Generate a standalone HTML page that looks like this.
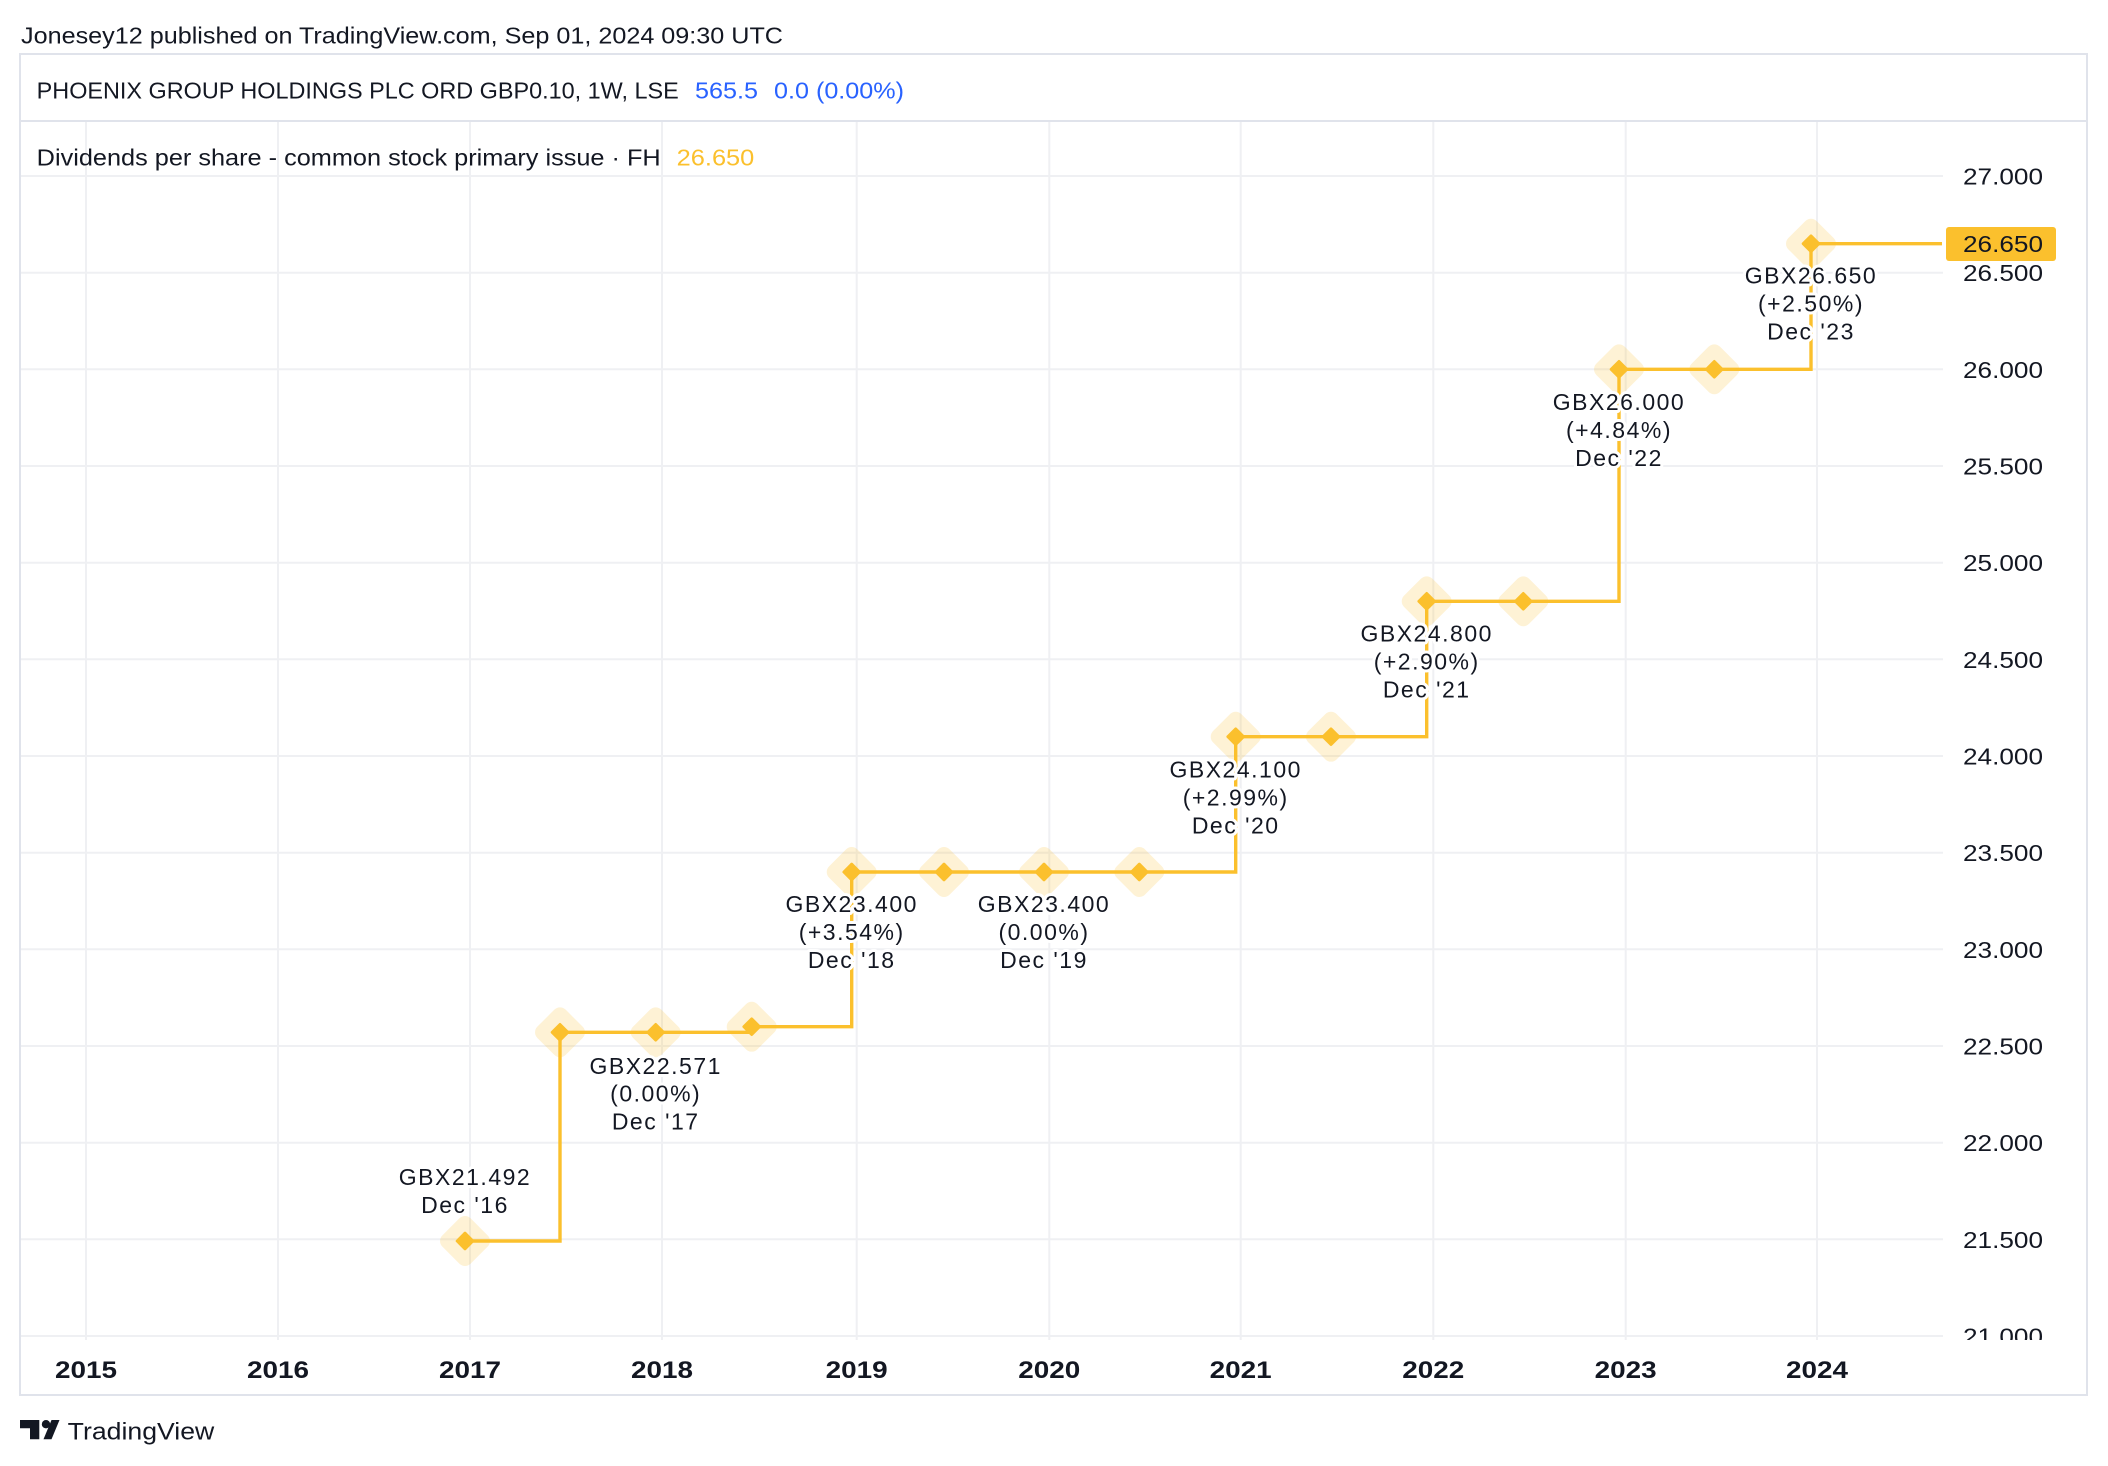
<!DOCTYPE html>
<html><head><meta charset="utf-8"><style>
html,body{margin:0;padding:0;background:#fff;}
svg{display:block;}
text{font-family:"Liberation Sans",Arial,sans-serif;fill:#131722;}
.lbl{font-size:23px;letter-spacing:1.5px;text-anchor:middle;stroke:#fff;stroke-width:6px;stroke-linejoin:round;paint-order:stroke;}
.ax{font-size:23px;}
.yr{font-size:24px;font-weight:bold;text-anchor:middle;}
</style></head><body>
<svg width="2108" height="1466" viewBox="0 0 2108 1466" xmlns="http://www.w3.org/2000/svg">
<defs>
<clipPath id="axclip"><rect x="1944" y="121" width="142" height="1219"/></clipPath>
<rect id="halo" x="-20" y="-20" width="40" height="40" rx="8" ry="8"/>
<rect id="dot" x="-7" y="-7" width="14" height="14" rx="1.5" ry="1.5"/>
</defs>
<rect x="0" y="0" width="2108" height="1466" fill="#fff"/>
<!-- header -->
<text x="21" y="43.3" font-size="23" textLength="762" lengthAdjust="spacingAndGlyphs">Jonesey12 published on TradingView.com, Sep 01, 2024 09:30 UTC</text>
<!-- frame -->
<rect x="20" y="54" width="2067" height="1341" fill="none" stroke="#e0e3eb" stroke-width="2"/>
<line x1="20" y1="121" x2="2087" y2="121" stroke="#e0e3eb" stroke-width="2"/>
<text x="36.7" y="98.3" font-size="23" textLength="642" lengthAdjust="spacingAndGlyphs">PHOENIX GROUP HOLDINGS PLC ORD GBP0.10, 1W, LSE</text>
<text x="695" y="98.3" font-size="23" style="fill:#2962ff" textLength="63" lengthAdjust="spacingAndGlyphs">565.5</text>
<text x="774" y="98.3" font-size="23" style="fill:#2962ff" textLength="130" lengthAdjust="spacingAndGlyphs">0.0 (0.00%)</text>

<!-- grid vertical -->
<g stroke="#eff0f3" stroke-width="2">
<line x1="86" y1="122" x2="86" y2="1340"/>
<line x1="278" y1="122" x2="278" y2="1340"/>
<line x1="470" y1="122" x2="470" y2="1340"/>
<line x1="662" y1="122" x2="662" y2="1340"/>
<line x1="856.7" y1="122" x2="856.7" y2="1340"/>
<line x1="1049.3" y1="122" x2="1049.3" y2="1340"/>
<line x1="1240.7" y1="122" x2="1240.7" y2="1340"/>
<line x1="1433.3" y1="122" x2="1433.3" y2="1340"/>
<line x1="1625.7" y1="122" x2="1625.7" y2="1340"/>
<line x1="1817" y1="122" x2="1817" y2="1340"/>
</g>
<!-- grid horizontal -->
<g stroke="#eff0f3" stroke-width="2">
<line x1="21" y1="176" x2="1943" y2="176"/>
<line x1="21" y1="272.7" x2="1943" y2="272.7"/>
<line x1="21" y1="369.3" x2="1943" y2="369.3"/>
<line x1="21" y1="466" x2="1943" y2="466"/>
<line x1="21" y1="562.7" x2="1943" y2="562.7"/>
<line x1="21" y1="659.3" x2="1943" y2="659.3"/>
<line x1="21" y1="756" x2="1943" y2="756"/>
<line x1="21" y1="852.7" x2="1943" y2="852.7"/>
<line x1="21" y1="949.3" x2="1943" y2="949.3"/>
<line x1="21" y1="1046" x2="1943" y2="1046"/>
<line x1="21" y1="1142.7" x2="1943" y2="1142.7"/>
<line x1="21" y1="1239.3" x2="1943" y2="1239.3"/>
<line x1="21" y1="1336" x2="1943" y2="1336"/>
</g>

<!-- legend -->
<text x="36.7" y="165.7" font-size="23" textLength="624" lengthAdjust="spacingAndGlyphs">Dividends per share - common stock primary issue · FH</text>
<text x="676.7" y="165.7" font-size="23" style="fill:#fbc02d" textLength="77.6" lengthAdjust="spacingAndGlyphs">26.650</text>

<!-- price axis labels -->
<g clip-path="url(#axclip)">
<text class="ax" x="1963" y="184.5" textLength="80" lengthAdjust="spacingAndGlyphs">27.000</text>
<text class="ax" x="1963" y="281.2" textLength="80" lengthAdjust="spacingAndGlyphs">26.500</text>
<text class="ax" x="1963" y="377.8" textLength="80" lengthAdjust="spacingAndGlyphs">26.000</text>
<text class="ax" x="1963" y="474.5" textLength="80" lengthAdjust="spacingAndGlyphs">25.500</text>
<text class="ax" x="1963" y="571.2" textLength="80" lengthAdjust="spacingAndGlyphs">25.000</text>
<text class="ax" x="1963" y="667.8" textLength="80" lengthAdjust="spacingAndGlyphs">24.500</text>
<text class="ax" x="1963" y="764.5" textLength="80" lengthAdjust="spacingAndGlyphs">24.000</text>
<text class="ax" x="1963" y="861.2" textLength="80" lengthAdjust="spacingAndGlyphs">23.500</text>
<text class="ax" x="1963" y="957.8" textLength="80" lengthAdjust="spacingAndGlyphs">23.000</text>
<text class="ax" x="1963" y="1054.5" textLength="80" lengthAdjust="spacingAndGlyphs">22.500</text>
<text class="ax" x="1963" y="1151.2" textLength="80" lengthAdjust="spacingAndGlyphs">22.000</text>
<text class="ax" x="1963" y="1247.8" textLength="80" lengthAdjust="spacingAndGlyphs">21.500</text>
<text class="ax" x="1963" y="1344.5" textLength="80" lengthAdjust="spacingAndGlyphs">21.000</text>
</g>

<!-- halos -->
<g fill="#fbc02d" fill-opacity="0.2">
<use href="#halo" transform="translate(465,1241) rotate(45)"/>
<use href="#halo" transform="translate(560,1032.3) rotate(45)"/>
<use href="#halo" transform="translate(655.7,1032.3) rotate(45)"/>
<use href="#halo" transform="translate(751.7,1026.7) rotate(45)"/>
<use href="#halo" transform="translate(851.7,872) rotate(45)"/>
<use href="#halo" transform="translate(944,872) rotate(45)"/>
<use href="#halo" transform="translate(1044,872) rotate(45)"/>
<use href="#halo" transform="translate(1139.3,872) rotate(45)"/>
<use href="#halo" transform="translate(1235.7,736.7) rotate(45)"/>
<use href="#halo" transform="translate(1331,736.7) rotate(45)"/>
<use href="#halo" transform="translate(1426.7,601.3) rotate(45)"/>
<use href="#halo" transform="translate(1523.3,601.3) rotate(45)"/>
<use href="#halo" transform="translate(1619,369.3) rotate(45)"/>
<use href="#halo" transform="translate(1714.3,369.3) rotate(45)"/>
<use href="#halo" transform="translate(1811,243.7) rotate(45)"/>
</g>

<!-- step line -->
<path d="M465,1241 H560 V1032.3 H751.7 V1026.7 H851.7 V872 H1235.7 V736.7 H1426.7 V601.3 H1619 V369.3 H1811 V243.7 H1942" fill="none" stroke="#fbc02d" stroke-width="3.4" stroke-linejoin="miter"/>

<!-- dots -->
<g fill="#fbc02d">
<use href="#dot" transform="translate(465,1241) rotate(45)"/>
<use href="#dot" transform="translate(560,1032.3) rotate(45)"/>
<use href="#dot" transform="translate(655.7,1032.3) rotate(45)"/>
<use href="#dot" transform="translate(751.7,1026.7) rotate(45)"/>
<use href="#dot" transform="translate(851.7,872) rotate(45)"/>
<use href="#dot" transform="translate(944,872) rotate(45)"/>
<use href="#dot" transform="translate(1044,872) rotate(45)"/>
<use href="#dot" transform="translate(1139.3,872) rotate(45)"/>
<use href="#dot" transform="translate(1235.7,736.7) rotate(45)"/>
<use href="#dot" transform="translate(1331,736.7) rotate(45)"/>
<use href="#dot" transform="translate(1426.7,601.3) rotate(45)"/>
<use href="#dot" transform="translate(1523.3,601.3) rotate(45)"/>
<use href="#dot" transform="translate(1619,369.3) rotate(45)"/>
<use href="#dot" transform="translate(1714.3,369.3) rotate(45)"/>
<use href="#dot" transform="translate(1811,243.7) rotate(45)"/>
</g>

<!-- point labels -->
<text class="lbl" x="465" y="1185">GBX21.492</text>
<text class="lbl" x="465" y="1213">Dec '16</text>

<text class="lbl" x="655.7" y="1074">GBX22.571</text>
<text class="lbl" x="655.7" y="1101.5">(0.00%)</text>
<text class="lbl" x="655.7" y="1129.5">Dec '17</text>

<text class="lbl" x="851.7" y="912">GBX23.400</text>
<text class="lbl" x="851.7" y="940">(+3.54%)</text>
<text class="lbl" x="851.7" y="968">Dec '18</text>

<text class="lbl" x="1044" y="912">GBX23.400</text>
<text class="lbl" x="1044" y="940">(0.00%)</text>
<text class="lbl" x="1044" y="968">Dec '19</text>

<text class="lbl" x="1235.7" y="777.3">GBX24.100</text>
<text class="lbl" x="1235.7" y="805.3">(+2.99%)</text>
<text class="lbl" x="1235.7" y="833.3">Dec '20</text>

<text class="lbl" x="1426.7" y="641.7">GBX24.800</text>
<text class="lbl" x="1426.7" y="669.7">(+2.90%)</text>
<text class="lbl" x="1426.7" y="697.7">Dec '21</text>

<text class="lbl" x="1619" y="410">GBX26.000</text>
<text class="lbl" x="1619" y="438">(+4.84%)</text>
<text class="lbl" x="1619" y="466">Dec '22</text>

<text class="lbl" x="1811" y="283.3">GBX26.650</text>
<text class="lbl" x="1811" y="311.3">(+2.50%)</text>
<text class="lbl" x="1811" y="339.3">Dec '23</text>

<!-- current price label -->
<rect x="1946" y="227" width="110" height="34" rx="3" ry="3" fill="#fbc02d"/>
<text class="ax" x="1963" y="252.2" textLength="80" lengthAdjust="spacingAndGlyphs">26.650</text>

<!-- year labels -->
<g class="yr">
<text class="yr" x="86" y="1378" textLength="62" lengthAdjust="spacingAndGlyphs">2015</text>
<text class="yr" x="278" y="1378" textLength="62" lengthAdjust="spacingAndGlyphs">2016</text>
<text class="yr" x="470" y="1378" textLength="62" lengthAdjust="spacingAndGlyphs">2017</text>
<text class="yr" x="662" y="1378" textLength="62" lengthAdjust="spacingAndGlyphs">2018</text>
<text class="yr" x="856.7" y="1378" textLength="62" lengthAdjust="spacingAndGlyphs">2019</text>
<text class="yr" x="1049.3" y="1378" textLength="62" lengthAdjust="spacingAndGlyphs">2020</text>
<text class="yr" x="1240.7" y="1378" textLength="62" lengthAdjust="spacingAndGlyphs">2021</text>
<text class="yr" x="1433.3" y="1378" textLength="62" lengthAdjust="spacingAndGlyphs">2022</text>
<text class="yr" x="1625.7" y="1378" textLength="62" lengthAdjust="spacingAndGlyphs">2023</text>
<text class="yr" x="1817" y="1378" textLength="62" lengthAdjust="spacingAndGlyphs">2024</text>
</g>

<!-- TradingView logo -->
<g fill="#131722">
<path d="M20,1420 H39.3 V1439.3 H30 V1428.3 H20 Z"/>
<circle cx="46" cy="1424.2" r="4.2"/>
<path d="M51.5,1420 H59.5 L51.5,1439.3 H43.5 Z"/>
</g>
<text x="67.7" y="1439.3" font-size="24" textLength="146.6" lengthAdjust="spacingAndGlyphs">TradingView</text>
</svg>
</body></html>
